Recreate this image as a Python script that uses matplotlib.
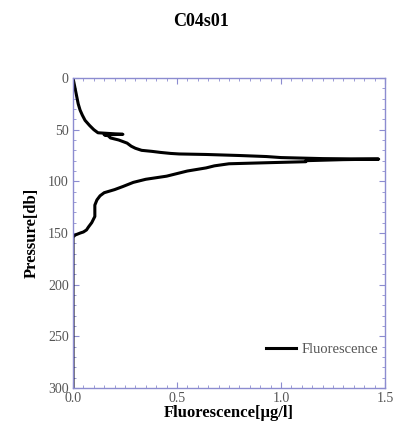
import matplotlib.pyplot as plt
from matplotlib.ticker import MultipleLocator

# CTD cast C04s01: fluorescence profile against pressure
pressure = [0, 5, 10, 15, 20, 25, 31, 36, 41, 46, 50, 53, 54.5, 55, 56, 58, 60, 63,
            66, 68, 70, 71, 72, 73, 73.5, 74, 75, 76, 77, 78, 78.5, 79, 80, 81, 82,
            83, 85, 87, 90, 92, 95, 98, 101, 105, 108, 111, 114, 118, 123, 128,
            134, 140, 144, 147, 149, 150, 152, 154, 160, 200, 250, 300]
fluorescence = [0.0, 0.005, 0.01, 0.015, 0.02, 0.025, 0.034, 0.045, 0.058, 0.08, 0.1,
                0.12, 0.24, 0.15, 0.17, 0.18, 0.22, 0.26, 0.28, 0.3, 0.33, 0.38,
                0.42, 0.47, 0.51, 0.64, 0.8, 0.93, 1.0, 1.2, 1.47, 1.3, 1.12, 1.12,
                0.93, 0.75, 0.68, 0.64, 0.55, 0.51, 0.45, 0.35, 0.29, 0.24, 0.2, 0.15,
                0.13, 0.115, 0.105, 0.105, 0.105, 0.09, 0.075, 0.065, 0.05, 0.035,
                0.01, 0.0, 0.0, 0.0, 0.0, 0.0]

frame = "#8c8cd0"
serif = ["Liberation Serif", "DejaVu Serif"]

fig = plt.figure(figsize=(4.02, 4.37), dpi=100)
ax = fig.add_axes([0.1816, 0.1121, 0.776, 0.7094])

ax.plot(fluorescence, pressure, color="black", linewidth=2.2, label="Fluorescence")

ax.set_xlim(0, 1.5)
ax.set_ylim(300, 0)
ax.xaxis.set_major_locator(MultipleLocator(0.5))
ax.xaxis.set_minor_locator(MultipleLocator(0.05))
ax.yaxis.set_major_locator(MultipleLocator(50))
ax.yaxis.set_minor_locator(MultipleLocator(10))
ax.xaxis.set_major_formatter(plt.FormatStrFormatter("%.1f"))

ax.tick_params(which="both", direction="in", top=True, right=True,
               color=frame, labelcolor="#555555", labelsize=10)
ax.tick_params(which="major", length=4, width=0.8, pad=3)
ax.tick_params(which="minor", length=2, width=0.6)
for lab in ax.get_xticklabels() + ax.get_yticklabels():
    lab.set_family(serif)
for side in ax.spines.values():
    side.set_color(frame)
    side.set_linewidth(1.0)

ax.set_xlabel("Fluorescence[μg/l]", family=serif, fontweight="bold",
              fontsize=12, labelpad=0)
ax.set_ylabel("Pressure[db]", family=serif, fontweight="bold",
              fontsize=12, labelpad=6)
fig.suptitle("C04s01", family=serif, fontweight="bold", fontsize=13, y=0.97)

leg = ax.legend(loc="lower right", frameon=False, handlelength=2.0,
                handletextpad=0.4, prop={"family": serif, "size": 10.5},
                bbox_to_anchor=(1.02, 0.06))
for t in leg.get_texts():
    t.set_color("#555555")

fig.savefig("out.png", dpi=100)
